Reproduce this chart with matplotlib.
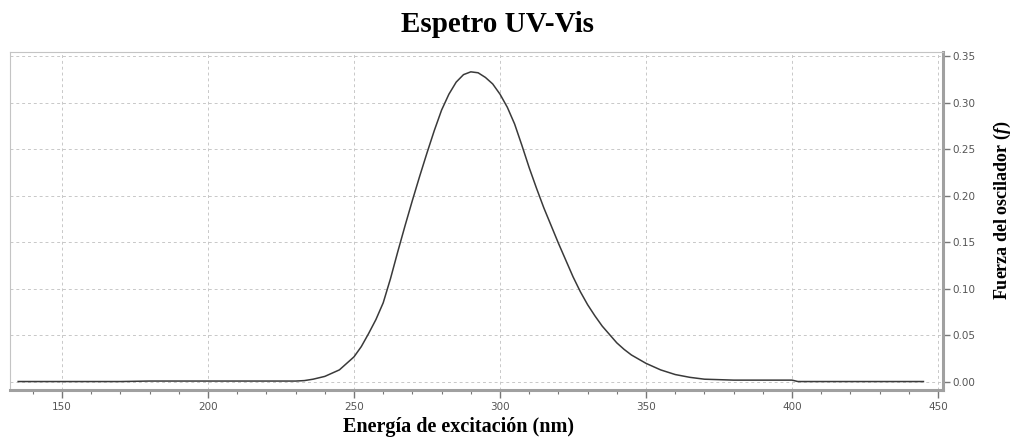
import matplotlib
matplotlib.use("Agg")
import matplotlib.pyplot as plt
from matplotlib.ticker import MultipleLocator, FormatStrFormatter

# wavelength (nm) and oscillator strength
wavelength = [135, 140, 150, 160, 170, 180, 190, 200, 210, 220, 230, 233,
              236, 240, 245, 250, 252.5, 255, 257.5, 260, 262.5, 265, 267.5,
              270, 272.5, 275, 277.5, 280, 282.5, 285, 287.5, 290, 292.5,
              295, 297.5, 300, 302.5, 305, 307.5, 310, 312.5, 315, 317.5,
              320, 322.5, 325, 327.5, 330, 332.5, 335, 337.5, 340, 342.5,
              345, 350, 355, 360, 365, 370, 380, 390, 400, 402, 420, 445]
strength = [0.0005, 0.0005, 0.0005, 0.0005, 0.0005, 0.001, 0.001, 0.001,
            0.001, 0.001, 0.001, 0.0015, 0.003, 0.006, 0.013, 0.027, 0.038,
            0.052, 0.067, 0.085, 0.111, 0.140, 0.168, 0.195, 0.221, 0.246,
            0.270, 0.292, 0.309, 0.322, 0.330, 0.333, 0.332, 0.327, 0.320,
            0.309, 0.295, 0.277, 0.254, 0.230, 0.208, 0.187, 0.168, 0.149,
            0.131, 0.113, 0.097, 0.083, 0.071, 0.060, 0.051, 0.042, 0.035,
            0.029, 0.020, 0.013, 0.008, 0.005, 0.003, 0.002, 0.002, 0.002,
            0.0005, 0.0005, 0.0005]

x_ticks = [150, 200, 250, 300, 350, 400, 450]

plt.rcParams['mathtext.fontset'] = 'custom'
plt.rcParams['mathtext.it'] = 'Liberation Serif:italic:bold'

fig = plt.figure(figsize=(10.21, 4.38), dpi=100)
ax = fig.add_axes([10 / 1021, 1 - 390 / 438, 933 / 1021, 338 / 438])

ax.plot(wavelength, strength, color='#3a3a3a', lw=1.1)

ax.set_xlim(132.2, 451.7)
ax.set_ylim(-0.0086, 0.3543)

ax.set_xticks(x_ticks)
ax.xaxis.set_minor_locator(MultipleLocator(10))
ax.yaxis.set_major_locator(MultipleLocator(0.05))
ax.yaxis.set_major_formatter(FormatStrFormatter('%.2f'))
ax.yaxis.tick_right()
ax.yaxis.set_label_position('right')

ax.grid(True, which='major', color='#c8c8c8', lw=0.7, ls=(0, (3, 3)))

for side in ['left', 'top']:
    ax.spines[side].set_color('#c4c4c4')
    ax.spines[side].set_linewidth(0.8)
for side in ['bottom', 'right']:
    ax.spines[side].set_color('#a0a0a0')
    ax.spines[side].set_linewidth(2.2)

ax.tick_params(axis='x', which='major', length=6, width=1, color='#777777',
               labelsize=7.5, labelcolor='#555555', pad=3)
ax.tick_params(axis='x', which='minor', length=3, width=0.8, color='#777777')
ax.tick_params(axis='y', which='major', length=5, width=1, color='#777777',
               labelsize=7.5, labelcolor='#555555', pad=2)

fig.text(497 / 1021, 1 - 32 / 438, 'Espetro UV-Vis', fontfamily='Liberation Serif',
         fontweight='bold', fontsize=21, ha='center', va='baseline')
fig.text(458 / 1021, 1 - 432 / 438, 'Energía de excitación (nm)',
         fontfamily='Liberation Serif', fontweight='bold', fontsize=14.5,
         ha='center', va='baseline')
ax.set_ylabel(r'Fuerza del oscilador ($\mathit{f}$)', fontfamily='Liberation Serif',
              fontweight='bold', fontsize=13)
ax.yaxis.set_label_coords(1.052, 0.533)

fig.savefig('out.png', dpi=100)
